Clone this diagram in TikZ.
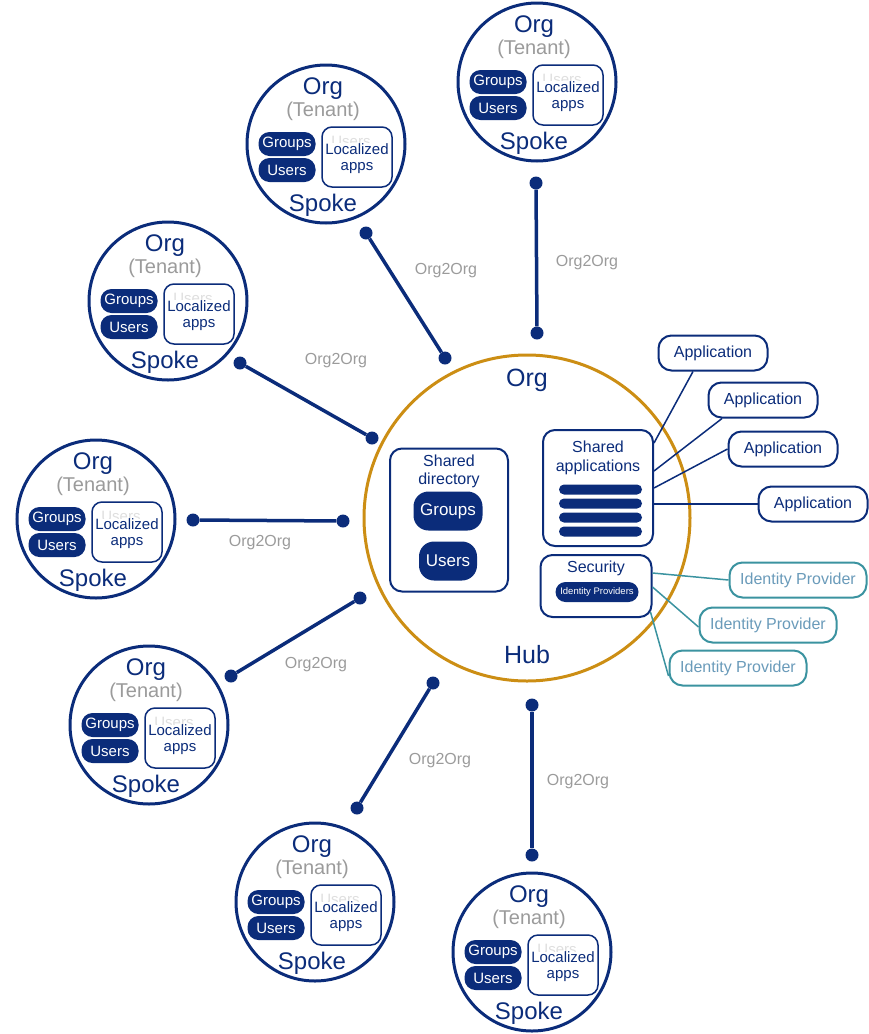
\documentclass[tikz,border=0pt]{standalone}
\usepackage{fontspec}
\setmainfont{Liberation Sans}
\definecolor{navy}{HTML}{0B2C7A}
\definecolor{gold}{HTML}{CC8E14}
\definecolor{teal2}{HTML}{3B93A0}
\definecolor{idptext}{HTML}{6A9BBA}
\definecolor{lgray}{HTML}{9B9B9B}
\newcommand\myfs[1]{\fontsize{#1}{#1}\selectfont}
\newcommand\spoke[3]{%
  \begin{scope}[shift={(#2,#3)}]
    \node[spokecircle] (#1) at (0,0) {};
    \node[spoketitle] (#1org) at (-3,-55) {Org};
    \node[tenant] (#1ten) at (-3,-33) {(Tenant)};
    \node[pill] (#1grp) at (-39,0) {Groups};
    \node[pill] (#1usr) at (-39,26) {Users};
    \node[locbox] (#1loc) at (31,13) {};
    \node[ghost] (#1gh) at (25,-3) {Users};
    \node[loctext,fill=white,inner sep=0.5pt] (#1lt) at (31,5.5) {Localized};
    \node[loctext] (#1la) at (31,24) {apps};
    \node[spoketitle] (#1spk) at (-3,61) {Spoke};
  \end{scope}}
\begin{document}
\begin{tikzpicture}[x=1pt,y=-1pt,
  spokecircle/.style={circle,draw=navy,line width=3pt,minimum size=158pt,inner sep=0pt,fill=white},
  spoketitle/.style={text=navy,font=\myfs{24},inner sep=0pt},
  tenant/.style={text=lgray,font=\myfs{20},inner sep=0pt},
  pill/.style={fill=navy,text=white,rounded corners=11pt,minimum width=57pt,minimum height=24pt,inner sep=0pt,font=\myfs{15}},
  locbox/.style={draw=navy,line width=1.5pt,rounded corners=10pt,minimum width=70pt,minimum height=60pt,inner sep=0pt},
  loctext/.style={text=navy,font=\myfs{15},inner sep=0pt},
  ghost/.style={text=gray!25,font=\myfs{15},inner sep=0pt},
  dot/.style={circle,fill=navy,minimum size=13pt,inner sep=0pt},
  link/.style={draw=navy,line width=3.5pt},
  o2o/.style={text=lgray,font=\myfs{16},inner sep=0pt},
  hubbox/.style={draw=navy,line width=2pt,rounded corners=12pt,inner sep=0pt},
  hubtext/.style={text=navy,font=\myfs{16},inner sep=0pt},
  bigpill/.style={fill=navy,text=white,rounded corners=15pt,minimum height=39pt,inner sep=0pt,font=\myfs{17}},
  bar/.style={fill=navy,rounded corners=5pt,minimum width=83pt,minimum height=10pt,inner sep=0pt},
  app/.style={draw=navy,line width=2pt,rounded corners=13pt,minimum width=109pt,minimum height=35pt,inner sep=0pt,text=navy,font=\myfs{16},fill=white},
  idp/.style={draw=teal2,line width=2pt,rounded corners=13pt,minimum width=137pt,minimum height=35pt,inner sep=0pt,text=idptext,font=\myfs{16},fill=white},
  appline/.style={draw=navy,line width=1.5pt},
  idpline/.style={draw=teal2,line width=1.5pt}
]
\useasboundingbox (0,0) rectangle (869,1034);

% hub
\node[circle,draw=gold,line width=3pt,minimum size=326pt,inner sep=0pt] (hub) at (527,518) {};
\node[text=navy,font=\myfs{25},inner sep=0pt] (huborg) at (527,380) {Org};
\node[text=navy,font=\myfs{25},inner sep=0pt] (hubhub) at (527,655) {Hub};

% shared directory
\node[hubbox,minimum width=118pt,minimum height=143pt] (sdir) at (449,520) {};
\node[hubtext] (sdirt1) at (449,461) {Shared};
\node[hubtext] (sdirt2) at (449,480) {directory};
\node[bigpill,minimum width=69pt] (hgrp) at (448,511) {Groups};
\node[bigpill,minimum width=58pt] (husr) at (448,561) {Users};

% shared applications
\node[hubbox,minimum width=110pt,minimum height=116pt] (sapp) at (598,488) {};
\node[hubtext] (sappt1) at (598,447) {Shared};
\node[hubtext] (sappt2) at (598,467) {applications};
\node[bar] (bar1) at (600.5,489.5) {};
\node[bar] (bar2) at (600.5,503.5) {};
\node[bar] (bar3) at (600.5,517.5) {};
\node[bar] (bar4) at (600.5,531.5) {};

% security
\node[hubbox,minimum width=111pt,minimum height=62pt] (sec) at (596,586) {};
\node[hubtext] (sect) at (596,568) {Security};
\node[fill=navy,text=white,rounded corners=10pt,minimum width=83pt,minimum height=20pt,inner sep=0pt,font=\myfs{9.5}] (idps) at (597,592) {Identity Providers};

% applications
\node[app] (app1) at (713,353) {Application};
\node[app] (app2) at (763,400) {Application};
\node[app] (app3) at (783,449) {Application};
\node[app] (app4) at (813,504) {Application};
\draw[appline] ([yshift=45pt]sapp.east) -- ([xshift=-20pt]app1.south);
\draw[appline] ([yshift=17pt]sapp.east) -- ([xshift=-41pt]app2.south);
\draw[appline] ([yshift=0pt]sapp.east) -- (app3.west);
\draw[appline] (sapp.east |- app4.west) -- (app4.west);

% identity providers
\node[idp] (idp1) at (798,580) {Identity Provider};
\node[idp] (idp2) at (768,625) {Identity Provider};
\node[idp] (idp3) at (738,668) {Identity Provider};
\draw[idpline] ([yshift=13pt]sec.east) -- (idp1.west);
\draw[idpline] ([yshift=-1pt]sec.east) -- ([yshift=-2pt]idp2.west);
\draw[idpline] ([xshift=-2pt,yshift=-26pt]sec.east) -- ([yshift=-8pt]idp3.west);

% spokes
\spoke{sa}{537}{82}
\spoke{sb}{326}{144}
\spoke{sc}{168}{301}
\spoke{sd}{96}{519}
\spoke{se}{149}{725}
\spoke{sf}{315}{902}
\spoke{sg}{532}{952}

% Org2Org links
\node[dot] (c1a) at (536,183) {};
\node[dot] (c1b) at (537,333) {};
\node[dot] (c2a) at (366,233) {};
\node[dot] (c2b) at (445,358) {};
\node[dot] (c3a) at (240,363) {};
\node[dot] (c3b) at (372,438) {};
\node[dot] (c4a) at (193,520) {};
\node[dot] (c4b) at (343,521) {};
\node[dot] (c5a) at (231,676) {};
\node[dot] (c5b) at (360,598) {};
\node[dot] (c6a) at (357,808) {};
\node[dot] (c6b) at (433,683) {};
\node[dot] (c7a) at (532,855) {};
\node[dot] (c7b) at (532,705) {};
\draw[link] (c1a) -- (c1b);
\draw[link] (c2a) -- (c2b);
\draw[link] (c3a) -- (c3b);
\draw[link] (c4a) -- (c4b);
\draw[link] (c5a) -- (c5b);
\draw[link] (c6a) -- (c6b);
\draw[link] (c7a) -- (c7b);
\node[o2o] (l1) at (587,263) {Org2Org};
\node[o2o] (l2) at (446,271) {Org2Org};
\node[o2o] (l3) at (336,361) {Org2Org};
\node[o2o] (l4) at (260,543) {Org2Org};
\node[o2o] (l5) at (316,665) {Org2Org};
\node[o2o] (l6) at (440,761) {Org2Org};
\node[o2o] (l7) at (578,782) {Org2Org};
\end{tikzpicture}
\end{document}
